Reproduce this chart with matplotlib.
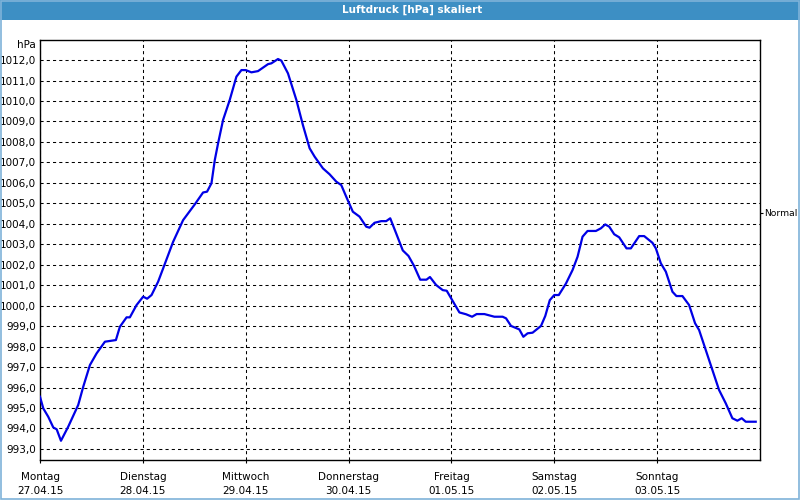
import matplotlib
matplotlib.use("Agg")
import matplotlib.pyplot as plt
from matplotlib.patches import Rectangle
from matplotlib.transforms import blended_transform_factory

# hours since Monday 27.04.15 00:00
hours = [0.0, 0.77, 1.93, 3.10, 3.89, 4.89, 6.59, 8.92, 10.09, 11.65, 13.21, 15.15,
         17.71, 18.64, 20.20, 20.97, 22.53, 24.07, 25.00, 26.03, 27.56, 28.73, 31.06,
         33.39, 36.12, 38.05, 38.98, 40.01, 40.78, 41.55, 42.71, 44.27, 45.83, 47.00,
         48.00, 49.33, 50.87, 53.20, 53.99, 55.53, 56.32, 57.86, 59.82, 61.35, 62.91,
         64.08, 66.01, 67.57, 69.13, 70.30, 71.46, 73.00, 74.56, 76.12, 76.89, 78.06,
         79.62, 80.78, 81.72, 83.11, 84.65, 85.98, 87.26, 88.71, 90.17, 90.99, 92.43,
         93.97, 94.90, 95.93, 97.86, 99.42, 100.82, 101.89, 103.69, 106.02, 107.95,
         108.75, 109.91, 111.84, 112.78, 113.78, 114.94, 116.90, 117.90, 118.95, 120.0,
         121.05, 122.72, 124.26, 125.43, 126.59, 127.76, 129.71, 130.88, 131.88, 132.82,
         133.98, 135.15, 136.85, 137.87, 139.81, 140.97, 142.91, 143.70, 144.86, 146.03,
         147.57, 148.50, 149.90, 151.46, 152.85, 153.79, 155.35, 156.89, 158.45, 160.01,
         161.55, 162.72, 163.74, 164.67, 167.0]
pressure = [995.55, 994.98, 994.57, 994.05, 993.96, 993.40, 994.09, 995.15, 996.04, 997.10,
            997.67, 998.24, 998.32, 998.97, 999.43, 999.43, 1000.03, 1000.44, 1000.34,
            1000.52, 1001.17, 1001.82, 1003.12, 1004.18, 1004.95, 1005.53, 1005.57,
            1005.98, 1007.11, 1007.93, 1009.07, 1010.05, 1011.19, 1011.51, 1011.51,
            1011.40, 1011.46, 1011.80, 1011.84, 1012.05, 1011.97, 1011.35, 1010.05,
            1008.82, 1007.69, 1007.28, 1006.71, 1006.42, 1006.06, 1005.89, 1005.32,
            1004.59, 1004.35, 1003.86, 1003.81, 1004.05, 1004.13, 1004.13, 1004.27,
            1003.53, 1002.70, 1002.43, 1001.95, 1001.27, 1001.27, 1001.40, 1001.01,
            1000.76, 1000.73, 1000.36, 999.67, 999.58, 999.46, 999.59, 999.59, 999.46,
            999.46, 999.38, 999.01, 998.84, 998.48, 998.65, 998.68, 999.01, 999.50,
            1000.27, 1000.52, 1000.52, 1001.08, 1001.74, 1002.39, 1003.37, 1003.65,
            1003.65, 1003.78, 1003.97, 1003.86, 1003.49, 1003.34, 1002.80, 1002.80,
            1003.40, 1003.40, 1003.07, 1002.80, 1002.07, 1001.66, 1000.68, 1000.47,
            1000.47, 1000.03, 999.14, 998.81, 997.83, 996.86, 995.88, 995.23, 994.50,
            994.38, 994.50, 994.33, 994.33]

day_names = ["Montag", "Dienstag", "Mittwoch", "Donnerstag", "Freitag", "Samstag", "Sonntag"]
day_dates = ["27.04.15", "28.04.15", "29.04.15", "30.04.15", "01.05.15", "02.05.15", "03.05.15"]
y_ticks = list(range(993, 1013))
normal_value = 1004.53
title = "Luftdruck [hPa] skaliert"
unit = "hPa"

plt.rcParams['font.family'] = ['DejaVu Sans']
fs = 7.5

fig = plt.figure(figsize=(8, 5), dpi=100)
fig.patch.set_facecolor("white")

# title bar and frame
fig.patches.append(Rectangle((0, 0.96), 1, 0.04, transform=fig.transFigure,
                             facecolor="#3d8fc4", edgecolor="none", zorder=0))
fig.patches.append(Rectangle((0.001, 0.002), 0.998, 0.996, transform=fig.transFigure,
                             facecolor="none", edgecolor="#7fb3d9", lw=1.2, zorder=1))
fig.text(412 / 800, 0.981, title, ha="center", va="center", color="white",
         fontsize=fs, fontweight="bold")

ax = fig.add_axes([40 / 800, 40 / 500, 720 / 800, 420 / 500])
ax.plot(hours, pressure, color="#0000e6", lw=1.6, zorder=3)

ax.set_xlim(0, 168)
ax.set_ylim(992.46, 1012.98)

ax.set_yticks(y_ticks)
ax.set_yticklabels([f"{v},0" for v in y_ticks], fontsize=fs)
ax.set_xticks([24 * i for i in range(7)])
ax.set_xticklabels([f"{n}\n{d}" for n, d in zip(day_names, day_dates)],
                   fontsize=fs, linespacing=1.55)

ax.tick_params(axis="y", length=0, pad=3)
ax.tick_params(axis="x", length=2.5, pad=6, direction="out")
ax.grid(True, color="black", linestyle=(0, (3, 3)), lw=0.75)
for s in ax.spines.values():
    s.set_color("black")
    s.set_linewidth(1.0)

tr = blended_transform_factory(ax.transAxes, ax.transData)
ax.text(-0.006, 1012.72, unit, transform=tr, ha="right", va="center", fontsize=fs)

ax2 = ax.twinx()
ax2.set_ylim(ax.get_ylim())
ax2.set_yticks([normal_value])
ax2.set_yticklabels(["Normal"], fontsize=6.6)
ax2.tick_params(axis="y", length=2.5, pad=0.8)
for s in ax2.spines.values():
    s.set_visible(False)

fig.savefig("out.png", dpi=100)
